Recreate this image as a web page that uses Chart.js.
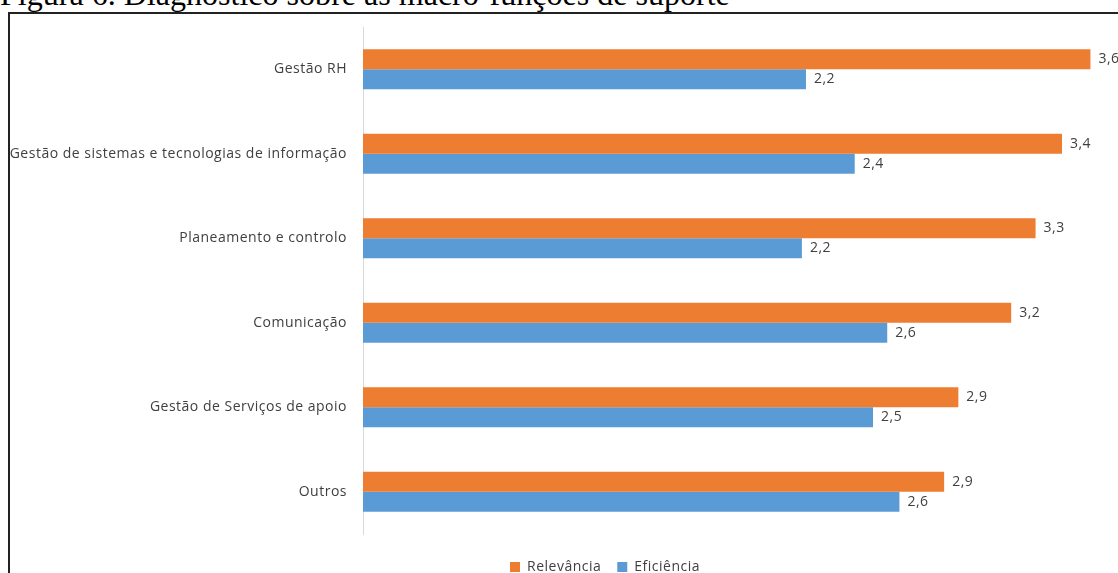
<!DOCTYPE html>
<html>
<head>
<meta charset="utf-8">
<script src="https://cdn.jsdelivr.net/npm/chart.js@4"></script>
<style>
  html, body { margin: 0; padding: 0; background: #fff; overflow: hidden; width: 1118px; height: 573px; }
  #titulo {
    position: absolute; left: 0; top: -18px; white-space: nowrap;
    font-family: "Liberation Serif", "Times New Roman", serif; font-size: 28px; line-height: 28px; color: #000;
  }
  #caixa {
    position: absolute; left: 8px; top: 12px; width: 1180px; height: 600px;
    border: 2px solid #222;
  }
  #grafico { display: block; }
</style>
</head>
<body>
<div id="titulo">Figura 6. Diagnóstico sobre as macro-funções de suporte</div>
<div id="caixa"><canvas id="grafico" width="1180" height="572"></canvas></div>
<script>
// ========== DADOS ==========
const categorias = [
    'Gestão RH',
    'Gestão de sistemas e tecnologias de informação',
    'Planeamento e controlo',
    'Comunicação',
    'Gestão de Serviços de apoio',
    'Outros'
];
const relevancia = [3.58, 3.44, 3.31, 3.19, 2.93, 2.86];
const eficiencia = [2.18, 2.42, 2.16, 2.58, 2.51, 2.64];

const FONTE = '"Open Sans", sans-serif';
const COR_TEXTO = '#404040';

// ajustar o título à largura do original
(function ajustarTitulo() {
    const el = document.getElementById('titulo');
    const c = document.createElement('canvas').getContext('2d');
    c.font = '28px "Liberation Serif"';
    const w = c.measureText(el.textContent).width;
    const size = 28 * 730 / w;
    el.style.fontSize = size.toFixed(2) + 'px';
    el.style.lineHeight = size.toFixed(2) + 'px';
    el.style.top = (5 - 0.8375 * size).toFixed(2) + 'px';
})();

const formatar = v => v.toFixed(1).replace('.', ',');

// espaçamento de letras um pouco mais largo (tipo Calibri)
const espacamentoPlugin = {
    id: 'espacamento',
    beforeInit(chart) { chart.ctx.letterSpacing = '0.5px'; },
    beforeDraw(chart) { chart.ctx.letterSpacing = '0.5px'; }
};

// rótulos de valor no fim de cada barra
const rotulosPlugin = {
    id: 'rotulos',
    afterDatasetsDraw(chart) {
        const ctx = chart.ctx;
        ctx.save();
        ctx.font = '14px ' + FONTE;
        ctx.fillStyle = COR_TEXTO;
        ctx.textAlign = 'left';
        ctx.textBaseline = 'middle';
        chart.data.datasets.forEach((ds, i) => {
            chart.getDatasetMeta(i).data.forEach((bar, j) => {
                ctx.fillText(formatar(ds.data[j]), bar.x + 8, bar.y);
            });
        });
        ctx.restore();
    }
};

new Chart(document.getElementById('grafico').getContext('2d'), {
    type: 'bar',
    data: {
        labels: categorias,
        datasets: [
            { label: 'Relevância', data: relevancia, backgroundColor: '#ED7D31', categoryPercentage: 0.475, barPercentage: 1 },
            { label: 'Eficiência', data: eficiencia, backgroundColor: '#5B9BD5', categoryPercentage: 0.475, barPercentage: 1 }
        ]
    },
    options: {
        indexAxis: 'y',
        responsive: false,
        animation: false,
        layout: { padding: { top: 13, right: 0, bottom: 2, left: 0 } },
        plugins: {
            legend: {
                position: 'bottom',
                labels: { font: { size: 14, family: FONTE }, color: COR_TEXTO, boxWidth: 10, boxHeight: 10, padding: 16 }
            },
            tooltip: { enabled: false }
        },
        scales: {
            x: {
                min: 0, max: 4.07,
                grid: { display: false },
                border: { display: false },
                ticks: { display: false },
                afterFit: s => { s.height = 10; s.paddingLeft = 0; s.paddingRight = 0; }
            },
            y: {
                grid: { display: false, drawTicks: false },
                border: { display: true, color: '#d9d9d9', width: 1 },
                ticks: { font: { size: 14, family: FONTE }, color: COR_TEXTO, padding: 16 },
                afterFit: s => { s.width = 353; s.paddingTop = 0; s.paddingBottom = 0; }
            }
        }
    },
    plugins: [espacamentoPlugin, rotulosPlugin]
});
</script>
</body>
</html>
